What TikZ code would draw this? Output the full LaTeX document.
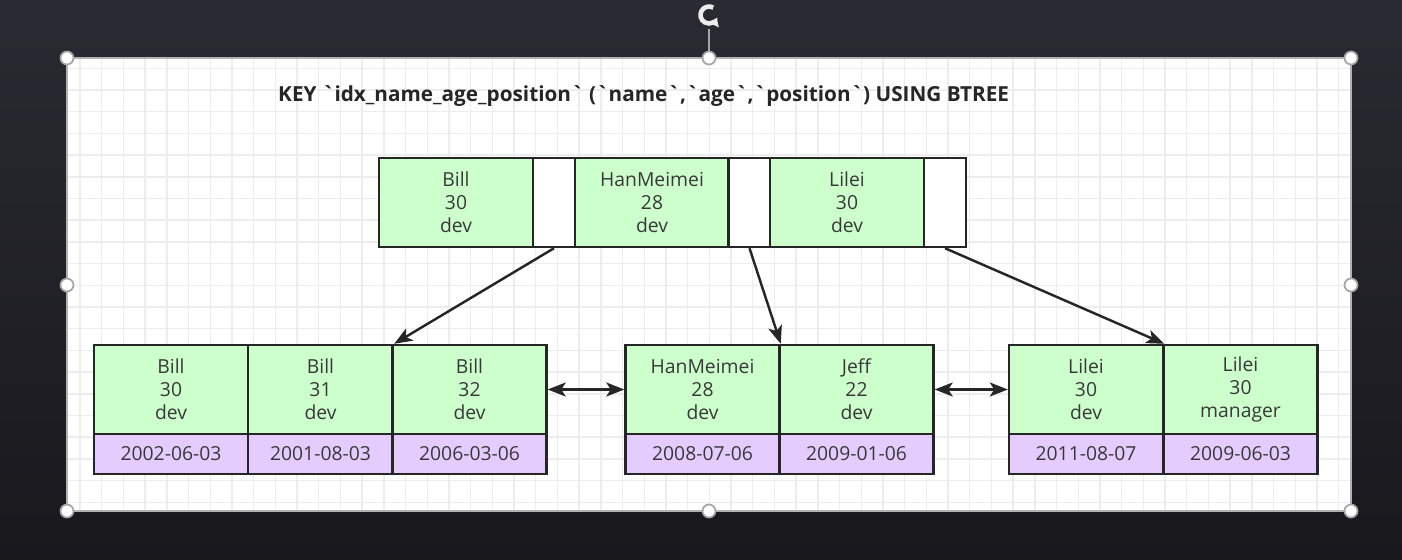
\documentclass[tikz,border=0pt]{standalone}
\usepackage{fontspec}
\setmainfont{Open Sans}
\newfontfamily\titlefont{Open Sans}[Ligatures=TeXOff]
\usetikzlibrary{arrows.meta}
\definecolor{keygreen}{HTML}{CCFFCC}
\definecolor{datepurple}{HTML}{E5CCFF}
\definecolor{gridgray}{HTML}{EDEDED}
\definecolor{textgray}{HTML}{383838}
\definecolor{bgtop}{HTML}{2A2A32}
\definecolor{bgbottom}{HTML}{18181D}
\begin{document}
\begin{tikzpicture}[x=0.02cm, y=-0.02cm, line width=1.4pt, >={Stealth[length=0.36cm,width=0.28cm,inset=0.09cm]},
key cell/.style={draw=black!85, fill=keygreen, minimum width=3.08cm, minimum height=1.78cm, inner sep=0pt, align=center, text=textgray, font=\fontsize{11pt}{13pt}\selectfont},
ptr cell/.style={draw=black!85, fill=white, minimum width=0.84cm, minimum height=1.78cm, inner sep=0pt},
date cell/.style={draw=black!85, fill=datepurple, minimum width=3.08cm, minimum height=0.8cm, inner sep=0pt, text=textgray, font=\fontsize{11pt}{13pt}\selectfont},
handle/.style={circle, draw=gray!70, fill=white, line width=1pt, minimum size=0.26cm, inner sep=0pt}]
\useasboundingbox (0,0) rectangle (1402,560);
\shade[top color=bgtop, bottom color=bgbottom] (0,0) rectangle (1402,560);
% slide with grid
\fill[white] (67,58) rectangle (1351,511);
\begin{scope}
\clip (67,58) rectangle (1351,511);
\foreach \i in {0,...,58} \draw[gridgray, line width=0.8pt] ({80+21.7*\i},58) -- ++(0,453);
\foreach \j in {0,...,20} \draw[gridgray, line width=0.8pt] (67,{68.3+21.7*\j}) -- ++(1284,0);
\end{scope}
\draw[gray!60, line width=0.6pt] (67,58) rectangle (1351,511);
\node [font=\titlefont\bfseries\fontsize{11.8pt}{14pt}\selectfont, text=black!85, anchor=west, inner sep=0pt] (title) at (277,96) {KEY `idx\_name\_age\_position` (`name`,`age`,`position`) USING BTREE};
% root node
\node [key cell] (k1) at (456,202.5) {Bill\\30\\dev};
\node [ptr cell] (p1) at (554,202.5) {};
\node [key cell] (k2) at (652,202.5) {HanMeimei\\28\\dev};
\node [ptr cell] (p2) at (749.5,202.5) {};
\node [key cell] (k3) at (847,202.5) {Lilei\\30\\dev};
\node [ptr cell] (p3) at (945,202.5) {};
% leaf nodes
\node [key cell] (l1k) at (171,389.5) {Bill\\30\\dev};
\node [key cell, minimum width=2.9cm] (l2k) at (320.5,389.5) {Bill\\31\\dev};
\node [key cell] (l3k) at (469.5,389.5) {Bill\\32\\dev};
\node [date cell] (l1d) at (171,454) {2002-06-03};
\node [date cell, minimum width=2.9cm] (l2d) at (320.5,454) {2001-08-03};
\node [date cell] (l3d) at (469.5,454) {2006-03-06};
\node [key cell] (m1k) at (702.5,389.5) {HanMeimei\\28\\dev};
\node [key cell] (m2k) at (856.5,389.5) {Jeff\\22\\dev};
\node [date cell] (m1d) at (702.5,454) {2008-07-06};
\node [date cell] (m2d) at (856.5,454) {2009-01-06};
\node [key cell] (r1k) at (1086,389.5) {Lilei\\30\\dev};
\node [key cell] (r2k) at (1240.5,389.5) {Lilei\\30\\manager};
\node [date cell] (r1d) at (1086,454) {2011-08-07};
\node [date cell] (r2d) at (1240.5,454) {2009-06-03};
\draw [->, black!85] (p1.south) -- (l2k.north east);
\draw [->, black!85] (p2.south) -- (m1k.north east);
\draw [->, black!85] (p3.south) -- (r1k.north east);
\draw [<->, black!85] (l3k.east) -- (m1k.west);
\draw [<->, black!85] (m2k.east) -- (r1k.west);
% selection handles
\node [circle, minimum size=0.5cm, inner sep=0pt] (rot) at (709,15) {};
\draw [white!85!gray, line width=2.6pt, -{Triangle[length=0.14cm,width=0.22cm]}] ([shift={(60:0.17cm)}]rot.center) arc[start angle=60, end angle=335, radius=0.17cm];
\node [handle] (h1) at (67,58) {};
\node [handle] (h2) at (709,58) {};
\node [handle] (h3) at (1351,58) {};
\node [handle] (h4) at (67,285) {};
\node [handle] (h5) at (1351,285) {};
\node [handle] (h6) at (67,511) {};
\node [handle] (h7) at (709,511) {};
\node [handle] (h8) at (1351,511) {};
\draw [gray!70, line width=1pt] (rot) -- (h2);
\end{tikzpicture}
\end{document}
